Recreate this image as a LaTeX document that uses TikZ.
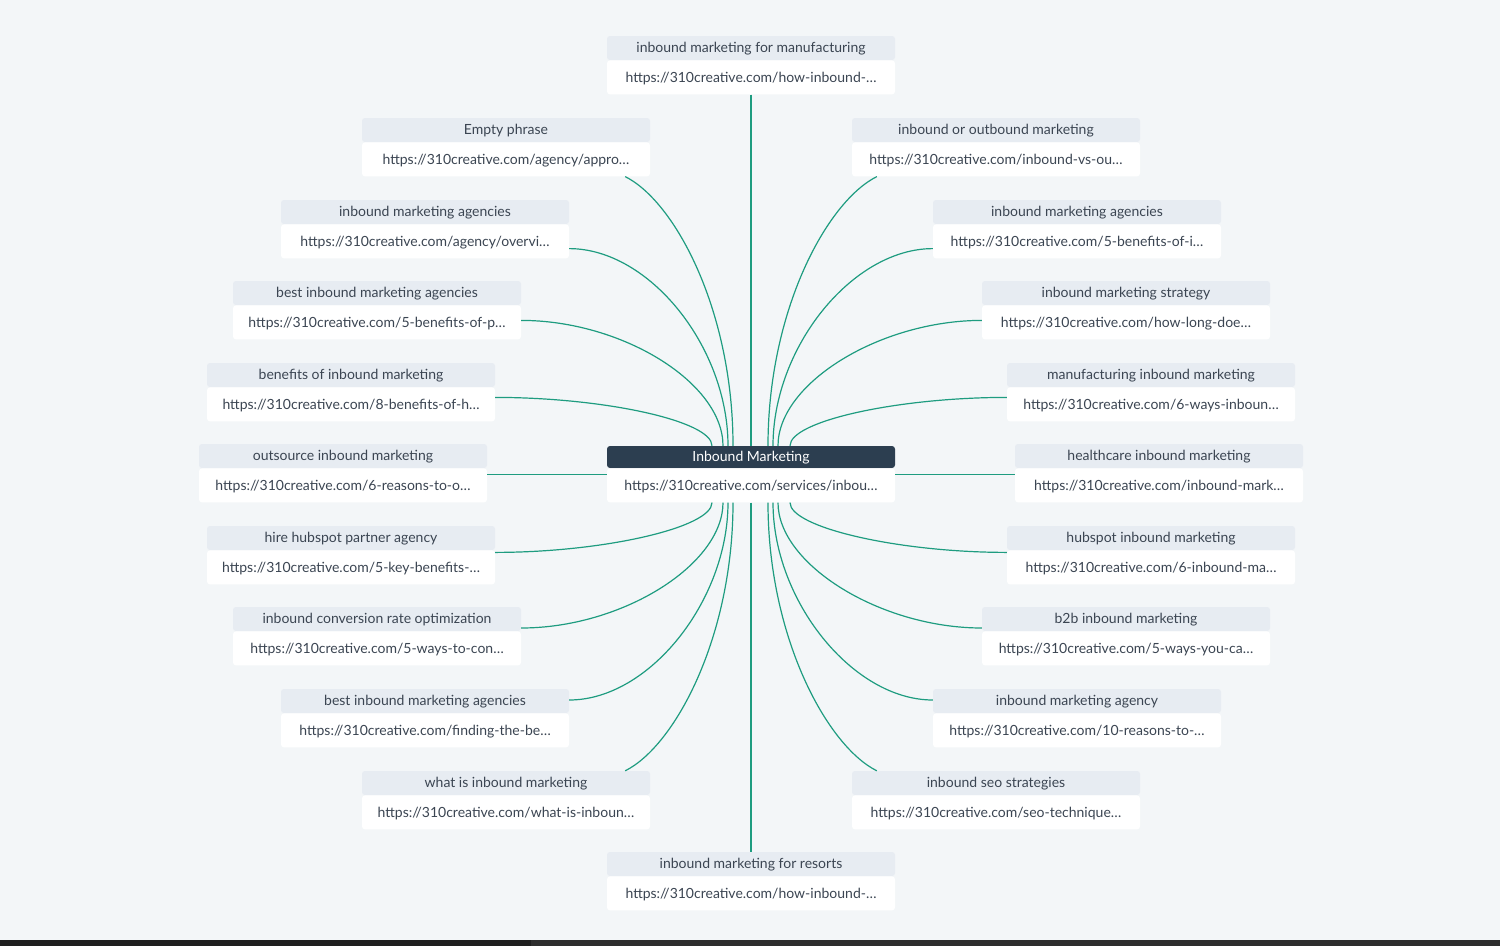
\documentclass[tikz,border=0pt]{standalone}
\usepackage{fontspec}
\setmainfont{Lato}
\usetikzlibrary{positioning}
\definecolor{pagebg}{HTML}{F3F6F8}
\definecolor{bandbg}{HTML}{E7ECF2}
\definecolor{hubbg}{HTML}{2C3E50}
\definecolor{linkc}{HTML}{1E9C80}
\definecolor{txtc}{HTML}{3B4552}
\begin{document}
\begin{tikzpicture}[x=1pt,y=-1pt,
  title/.style={fill=bandbg, rounded corners=3pt, minimum width=288pt, minimum height=24pt,
    inner sep=0pt, text=txtc, text height=12.5pt, text depth=3pt, font=\fontsize{14}{16}\selectfont},
  url/.style={fill=white, rounded corners=3pt, minimum width=288pt, minimum height=34pt,
    inner sep=0pt, text=txtc, text height=12.5pt, text depth=3pt, font=\fontsize{14}{16}\selectfont},
  hubtitle/.style={title, fill=hubbg, text=white, minimum height=22pt},
  link/.style={draw=linkc, line width=1.2pt}]
  \fill [pagebg] (0,0) rectangle (1500,946);
  \useasboundingbox (0,0) rectangle (1500,946);
  \fill [color=black!88] (0,940) rectangle (531,946);
  \fill [color=black!82] (531,940) rectangle (1500,946);

  % centre
  \node [hubtitle] (hub) at (751,457) {Inbound Marketing};
  \node [url, below=0pt of hub] (hubu) {https://310creative.com/services/inbou…};

  % top and bottom
  \node [title] (t-top) at (751,48) {inbound marketing for manufacturing};
  \node [url, below=0pt of t-top] (u-top) {https://310creative.com/how-inbound-…};
  \node [title] (t-bot) at (751,864) {inbound marketing for resorts};
  \node [url, below=0pt of t-bot] (u-bot) {https://310creative.com/how-inbound-…};

  % left side
  \node [title] (t-ul4) at (506,130) {Empty phrase};
  \node [url, below=0pt of t-ul4] (u-ul4) {https://310creative.com/agency/appro…};
  \node [title] (t-ul3) at (425,212) {inbound marketing agencies};
  \node [url, below=0pt of t-ul3] (u-ul3) {https://310creative.com/agency/overvi…};
  \node [title] (t-ul2) at (377,293) {best inbound marketing agencies};
  \node [url, below=0pt of t-ul2] (u-ul2) {https://310creative.com/5-benefits-of-p…};
  \node [title] (t-ul1) at (351,375) {benefits of inbound marketing};
  \node [url, below=0pt of t-ul1] (u-ul1) {https://310creative.com/8-benefits-of-h…};
  \node [title] (t-l0) at (343,456) {outsource inbound marketing};
  \node [url, below=0pt of t-l0] (u-l0) {https://310creative.com/6-reasons-to-o…};
  \node [title] (t-ll1) at (351,538) {hire hubspot partner agency};
  \node [url, below=0pt of t-ll1] (u-ll1) {https://310creative.com/5-key-benefits-…};
  \node [title] (t-ll2) at (377,619) {inbound conversion rate optimization};
  \node [url, below=0pt of t-ll2] (u-ll2) {https://310creative.com/5-ways-to-con…};
  \node [title] (t-ll3) at (425,701) {best inbound marketing agencies};
  \node [url, below=0pt of t-ll3] (u-ll3) {https://310creative.com/finding-the-be…};
  \node [title] (t-ll4) at (506,783) {what is inbound marketing};
  \node [url, below=0pt of t-ll4] (u-ll4) {https://310creative.com/what-is-inboun…};

  % right side
  \node [title] (t-ur4) at (996,130) {inbound or outbound marketing};
  \node [url, below=0pt of t-ur4] (u-ur4) {https://310creative.com/inbound-vs-ou…};
  \node [title] (t-ur3) at (1077,212) {inbound marketing agencies};
  \node [url, below=0pt of t-ur3] (u-ur3) {https://310creative.com/5-benefits-of-i…};
  \node [title] (t-ur2) at (1126,293) {inbound marketing strategy};
  \node [url, below=0pt of t-ur2] (u-ur2) {https://310creative.com/how-long-doe…};
  \node [title] (t-ur1) at (1151,375) {manufacturing inbound marketing};
  \node [url, below=0pt of t-ur1] (u-ur1) {https://310creative.com/6-ways-inboun…};
  \node [title] (t-r0) at (1159,456) {healthcare inbound marketing};
  \node [url, below=0pt of t-r0] (u-r0) {https://310creative.com/inbound-mark…};
  \node [title] (t-lr1) at (1151,538) {hubspot inbound marketing};
  \node [url, below=0pt of t-lr1] (u-lr1) {https://310creative.com/6-inbound-ma…};
  \node [title] (t-lr2) at (1126,619) {b2b inbound marketing};
  \node [url, below=0pt of t-lr2] (u-lr2) {https://310creative.com/5-ways-you-ca…};
  \node [title] (t-lr3) at (1077,701) {inbound marketing agency};
  \node [url, below=0pt of t-lr3] (u-lr3) {https://310creative.com/10-reasons-to-…};
  \node [title] (t-lr4) at (996,783) {inbound seo strategies};
  \node [url, below=0pt of t-lr4] (u-lr4) {https://310creative.com/seo-technique…};

  % links
  \draw [link] (u-top) -- (hub);
  \draw [link] (hubu) -- (t-bot);
  \draw [link] ([yshift=11pt]u-l0.east) -- ([yshift=11pt]hubu.west);
  \draw [link] ([yshift=11pt]u-r0.west) -- ([yshift=11pt]hubu.east);

  \draw [link] ([xshift=-25pt]u-ul4.south east) .. controls +(50,25) and +(0,-135) .. ([xshift=-18pt]hub.north);
  \draw [link] ([yshift=10pt]u-ul3.south east) .. controls +(80,0) and +(0,-99) .. ([xshift=-23pt]hub.north);
  \draw [link] ([yshift=2pt]u-ul2.east) .. controls +(101,0) and +(0,-63) .. ([xshift=-28pt]hub.north);
  \draw [link] ([yshift=7pt]u-ul1.east) .. controls +(108,0) and +(0,-25) .. ([xshift=-39pt]hub.north);
  \draw [link] ([yshift=15pt]u-ll1.east) .. controls +(108,0) and +(0,25) .. ([xshift=-39pt]hubu.south);
  \draw [link] ([yshift=-9pt]t-ll2.east) .. controls +(101,0) and +(0,62) .. ([xshift=-28pt]hubu.south);
  \draw [link] ([yshift=1pt]t-ll3.east) .. controls +(80,0) and +(0,98) .. ([xshift=-23pt]hubu.south);
  \draw [link] ([xshift=-25pt]t-ll4.north east) .. controls +(50,-25) and +(0,134) .. ([xshift=-18pt]hubu.south);

  \draw [link] ([xshift=25pt]u-ur4.south west) .. controls +(-50,25) and +(0,-135) .. ([xshift=17pt]hub.north);
  \draw [link] ([yshift=10pt]u-ur3.south west) .. controls +(-80,0) and +(0,-99) .. ([xshift=22pt]hub.north);
  \draw [link] ([yshift=2pt]u-ur2.west) .. controls +(-101,0) and +(0,-63) .. ([xshift=27pt]hub.north);
  \draw [link] ([yshift=7pt]u-ur1.west) .. controls +(-108,0) and +(0,-25) .. ([xshift=39pt]hub.north);
  \draw [link] ([yshift=15pt]u-lr1.west) .. controls +(-108,0) and +(0,25) .. ([xshift=39pt]hubu.south);
  \draw [link] ([yshift=-9pt]t-lr2.west) .. controls +(-101,0) and +(0,62) .. ([xshift=27pt]hubu.south);
  \draw [link] ([yshift=1pt]t-lr3.west) .. controls +(-80,0) and +(0,98) .. ([xshift=22pt]hubu.south);
  \draw [link] ([xshift=25pt]t-lr4.north west) .. controls +(-50,-25) and +(0,134) .. ([xshift=17pt]hubu.south);
\end{tikzpicture}
\end{document}
